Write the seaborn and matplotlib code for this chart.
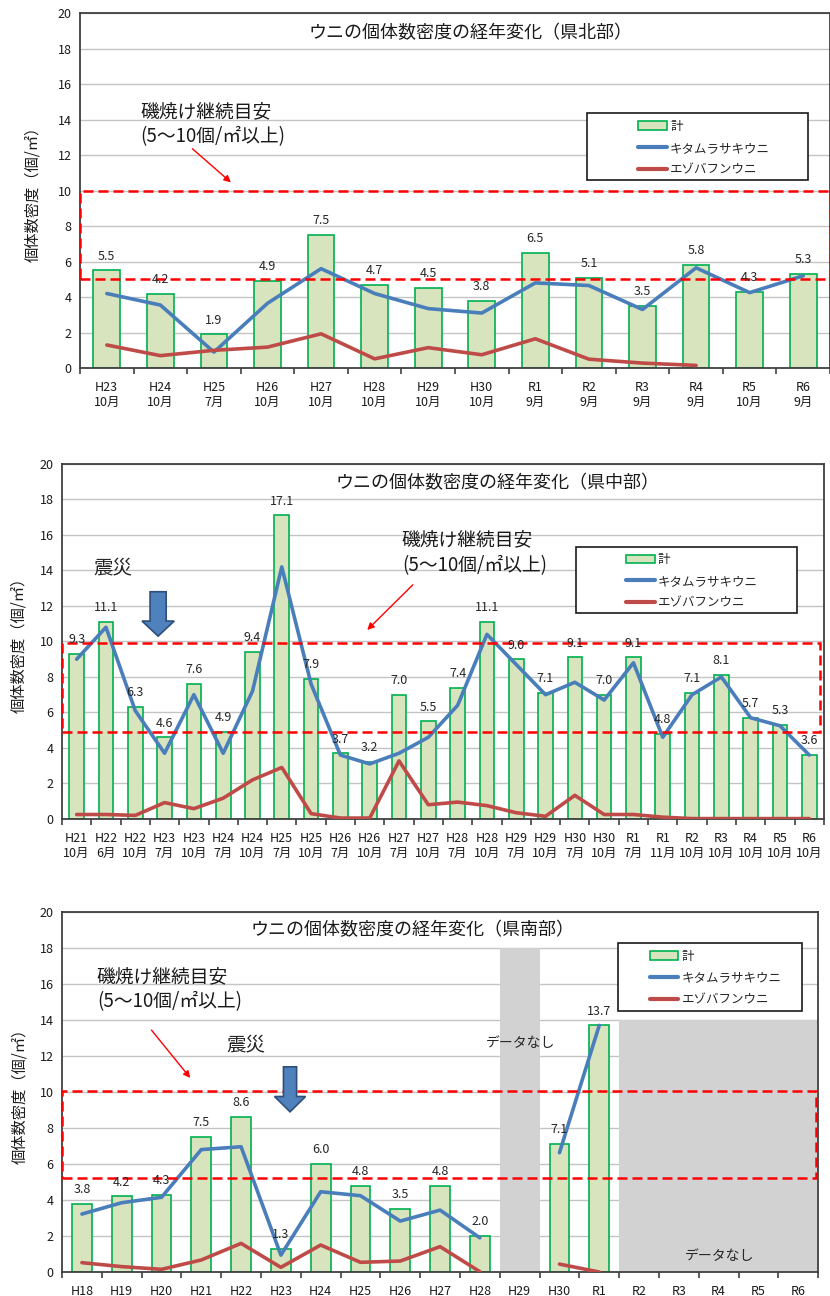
import numpy as np
import matplotlib
matplotlib.use("Agg")
import matplotlib.pyplot as plt
import matplotlib.transforms as mtransforms
from matplotlib.patches import Patch, Rectangle, FancyArrow
from matplotlib.lines import Line2D
import seaborn as sns

sns.set_theme(style="white")
plt.rcParams["font.family"] = ["Noto Sans CJK JP", "DejaVu Sans"]

nan = np.nan

# ---- 県北部 ----
north_cats = ["H23\n10月", "H24\n10月", "H25\n7月", "H26\n10月", "H27\n10月", "H28\n10月", "H29\n10月",
              "H30\n10月", "R1\n9月", "R2\n9月", "R3\n9月", "R4\n9月", "R5\n10月", "R6\n9月"]
north_total = [5.5, 4.2, 1.9, 4.9, 7.5, 4.7, 4.5, 3.8, 6.5, 5.1, 3.5, 5.8, 4.3, 5.3]
north_kita = [4.2, 3.55, 0.9, 3.65, 5.6, 4.2, 3.35, 3.1, 4.8, 4.65, 3.3, 5.65, 4.25, 5.2]
north_ezo = [1.3, 0.7, 1.0, 1.18, 1.93, 0.52, 1.15, 0.75, 1.65, 0.5, 0.28, 0.15, nan, nan]

# ---- 県中部 ----
mid_cats = ["H21\n10月", "H22\n6月", "H22\n10月", "H23\n7月", "H23\n10月", "H24\n7月", "H24\n10月",
            "H25\n7月", "H25\n10月", "H26\n7月", "H26\n10月", "H27\n7月", "H27\n10月", "H28\n7月",
            "H28\n10月", "H29\n7月", "H29\n10月", "H30\n7月", "H30\n10月", "R1\n7月", "R1\n11月",
            "R2\n10月", "R3\n10月", "R4\n10月", "R5\n10月", "R6\n10月"]
mid_total = [9.3, 11.1, 6.3, 4.6, 7.6, 4.9, 9.4, 17.1, 7.9, 3.7, 3.2, 7.0, 5.5, 7.4,
             11.1, 9.0, 7.1, 9.1, 7.0, 9.1, 4.8, 7.1, 8.1, 5.7, 5.3, 3.6]
mid_kita = [9.0, 10.8, 6.1, 3.7, 7.0, 3.7, 7.2, 14.2, 7.6, 3.6, 3.1, 3.7, 4.6, 6.4,
            10.4, 8.7, 7.0, 7.7, 6.7, 8.8, 4.6, 7.0, 8.0, 5.7, 5.25, 3.6]
mid_ezo = [0.25, 0.25, 0.2, 0.92, 0.58, 1.17, 2.2, 2.9, 0.3, 0.05, 0.05, 3.27, 0.8, 0.95,
           0.75, 0.35, 0.15, 1.33, 0.25, 0.25, 0.1, 0.02, 0.02, 0.02, 0.02, 0.02]

# ---- 県南部 ----
south_cats = ["H18", "H19", "H20", "H21", "H22", "H23", "H24", "H25", "H26", "H27", "H28", "H29",
              "H30", "R1", "R2", "R3", "R4", "R5", "R6"]
south_total = [3.8, 4.2, 4.3, 7.5, 8.6, 1.3, 6.0, 4.8, 3.5, 4.8, 2.0, nan, 7.1, 13.7,
               nan, nan, nan, nan, nan]
south_kita = [3.22, 3.85, 4.15, 6.8, 6.96, 0.94, 4.46, 4.24, 2.83, 3.44, 1.9, nan, 6.63, 13.7,
              nan, nan, nan, nan, nan]
south_ezo = [0.52, 0.3, 0.15, 0.67, 1.59, 0.26, 1.5, 0.54, 0.61, 1.41, 0.02, nan, 0.44, 0.0,
             nan, nan, nan, nan, nan]
south_nodata = [nan, nan, nan, nan, nan, nan, nan, nan, nan, nan, nan, 18.0, nan, nan,
                14.0, 14.0, 14.0, 14.0, 14.0]

BAR_FACE = "#d7e4bd"
BAR_EDGE = "#00b050"
BLUE = "#4a7ebb"
RED = "#be4b48"
ARROW_FACE = "#4f81bd"
GUIDE = "磯焼け継続目安\n(5～10個/㎡以上)"


def draw_panel(ax, cats, total, kita, ezo, title, title_xy, band, legend_box, legend_xy, nodata=None):
    n = len(cats)
    ax.set_axisbelow(True)
    ax.yaxis.grid(True, color="#c4c4c4", lw=1)
    ax.xaxis.grid(False)

    if nodata is not None:
        sns.barplot(x=cats, y=nodata, order=cats, color="#d2d2d2", saturation=1,
                    width=1.0, linewidth=0, errorbar=None, ax=ax)

    sns.barplot(x=cats, y=total, order=cats, color=BAR_FACE, saturation=1,
                edgecolor=BAR_EDGE, linewidth=1.2, width=0.5, errorbar=None, ax=ax)

    x = np.arange(n)
    ax.plot(x, kita, color=BLUE, lw=2.6, zorder=4)
    ax.plot(x, ezo, color=RED, lw=2.6, zorder=4)

    for i, v in enumerate(total):
        if not np.isnan(v):
            ax.text(i, v + 0.8, f"{v:.1f}", ha="center", va="center", fontsize=9,
                    color="#262626", zorder=6)

    ax.set_xlim(-0.5, n - 0.5)
    ax.set_ylim(0, 20)
    ax.set_yticks(range(0, 21, 2))
    ax.set_xlabel("")
    ax.set_ylabel("個体数密度（個/㎡）", fontsize=11, color="#1a1a1a")
    ax.tick_params(axis="x", which="major", length=0, pad=9.5, labelsize=9, colors="#1a1a1a")
    ax.set_xticks(np.arange(n + 1) - 0.5, minor=True)
    ax.tick_params(axis="x", which="minor", length=4, width=1.2, color="#404040", direction="out", bottom=True)
    ax.tick_params(axis="y", length=0, pad=6, labelsize=9, colors="#1a1a1a")
    for s in ax.spines.values():
        s.set_color("#404040")
        s.set_linewidth(1.3)

    ax.text(title_xy[0], title_xy[1], title, transform=ax.transAxes, ha="center", va="center",
            fontsize=13, color="#1a1a1a")

    # guide band (5-10)
    trans = mtransforms.blended_transform_factory(ax.transAxes, ax.transData)
    ax.add_patch(Rectangle((band[0], band[2]), band[1] - band[0], band[3] - band[2],
                           transform=trans, fill=False, edgecolor="#ff0000", lw=1.8,
                           linestyle=(0, (4, 2)), zorder=5, clip_on=False))

    # legend
    x0, y0, x1, y1 = legend_box
    ax.add_patch(Rectangle((x0, y0), x1 - x0, y1 - y0, transform=ax.transAxes,
                           facecolor="white", edgecolor="#1a1a1a", lw=1.2, zorder=7))
    handles = [Patch(facecolor=BAR_FACE, edgecolor=BAR_EDGE, lw=1.2),
               Line2D([], [], color=BLUE, lw=3),
               Line2D([], [], color=RED, lw=3)]
    leg = ax.legend(handles, ["計", "キタムラサキウニ", "エゾバフンウニ"], loc="upper left",
                    bbox_to_anchor=legend_xy, frameon=False, fontsize=9, borderpad=0,
                    handlelength=2.3, handletextpad=0.25, labelspacing=0.68)
    leg.set_zorder(8)


def guide_text(ax, text_xy, arrow_from, arrow_to):
    ax.text(text_xy[0], text_xy[1], GUIDE, transform=ax.transAxes, ha="left", va="top",
            fontsize=13.5, linespacing=1.25, color="#1a1a1a", zorder=6)
    ax.annotate("", xy=arrow_to, xytext=arrow_from, xycoords="axes fraction",
                textcoords="axes fraction",
                arrowprops=dict(arrowstyle="-|>", color="#ff0000", lw=1, mutation_scale=10))


fig = plt.figure(figsize=(8.3, 12.96), dpi=100)
ax1 = fig.add_axes([0.0964, 0.7160, 0.9036, 0.2739])
ax2 = fig.add_axes([0.0747, 0.3681, 0.918, 0.2739])
ax3 = fig.add_axes([0.0747, 0.0185, 0.911, 0.2778])

draw_panel(ax1, north_cats, north_total, north_kita, north_ezo,
           "ウニの個体数密度の経年変化（県北部）", (0.521, 0.944),
           (0.0, 1.0, 5.0, 10.0), (0.676, 0.53, 0.971, 0.718), (0.736, 0.716))
guide_text(ax1, (0.08, 0.752), (0.147, 0.623), (0.204, 0.518))
ax1.yaxis.set_label_coords(-0.052, 0.5)

draw_panel(ax2, mid_cats, mid_total, mid_kita, mid_ezo,
           "ウニの個体数密度の経年変化（県中部）", (0.571, 0.946),
           (0.0, 0.995, 4.9, 9.9), (0.675, 0.58, 0.965, 0.766), (0.732, 0.766))
guide_text(ax2, (0.446, 0.815), (0.463, 0.665), (0.398, 0.527))
ax2.text(0.067, 0.707, "震災", transform=ax2.transAxes, ha="center", va="center", fontsize=14)
ax2.add_patch(FancyArrow(2.78, 12.8, 0, -2.5, width=0.55, head_width=1.1, head_length=0.85,
                         length_includes_head=True, facecolor=ARROW_FACE, edgecolor="#2f4f7a",
                         lw=1.2, zorder=6))
ax2.yaxis.set_label_coords(-0.045, 0.5)

draw_panel(ax3, south_cats, south_total, south_kita, south_ezo,
           "ウニの個体数密度の経年変化（県南部）", (0.464, 0.95),
           (0.0, 0.997, 5.2, 10.05), (0.735, 0.725, 0.979, 0.914), (0.769, 0.912),
           nodata=south_nodata)
guide_text(ax3, (0.046, 0.85), (0.116, 0.678), (0.172, 0.533))
ax3.text(0.243, 0.631, "震災", transform=ax3.transAxes, ha="center", va="center", fontsize=14)
ax3.add_patch(FancyArrow(5.23, 11.4, 0, -2.5, width=0.33, head_width=0.78, head_length=0.85,
                         length_includes_head=True, facecolor=ARROW_FACE, edgecolor="#2f4f7a",
                         lw=1.2, zorder=6))
ax3.text(0.606, 0.636, "データなし", transform=ax3.transAxes, ha="center", va="center", fontsize=10)
ax3.text(0.870, 0.044, "データなし", transform=ax3.transAxes, ha="center", va="center", fontsize=10)
ax3.yaxis.set_label_coords(-0.045, 0.5)

fig.savefig("out.png", dpi=100)
